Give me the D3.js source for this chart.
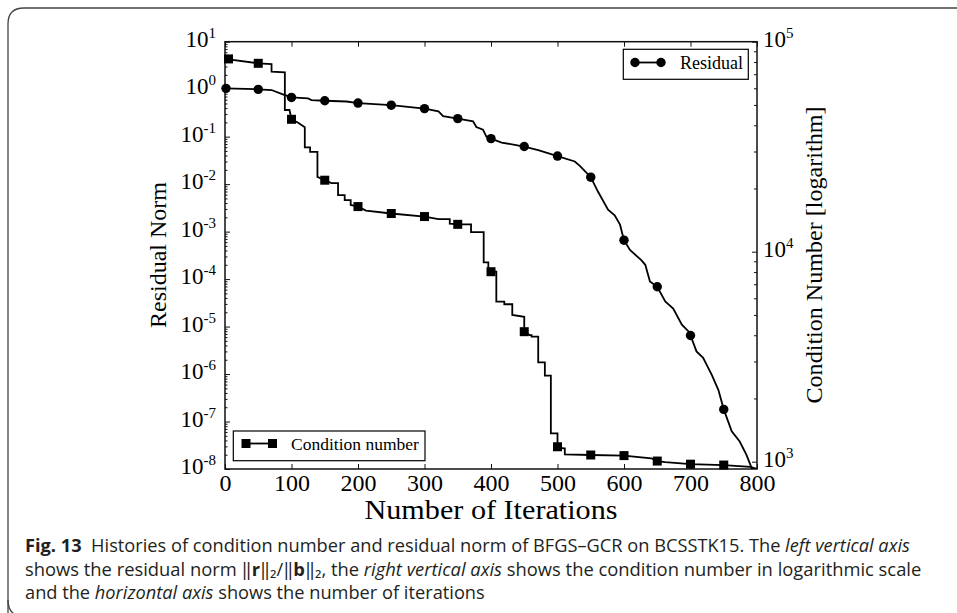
<!DOCTYPE html>
<html><head><meta charset="utf-8">
<script src="https://cdn.jsdelivr.net/npm/d3@7"></script>
<style>html,body{margin:0;padding:0;background:#fff;} svg{display:block;}</style>
</head><body><svg id="c" width="957" height="613"></svg>
<script>
// ---------- data ----------
const xTicks = [0, 100, 200, 300, 400, 500, 600, 700, 800];
const leftExponents = [1, 0, -1, -2, -3, -4, -5, -6, -7, -8];
const rightExponents = [5, 4, 3];

const residualIter = [
  0, 50, 70, 87, 100, 125, 130, 150, 183, 200,
  250, 300, 321, 328, 350, 373, 378, 388, 393, 400,
  416, 450, 471, 500, 526, 534, 550, 561, 576, 586,
  594, 600, 609, 626, 632, 639, 650, 662, 674, 687,
  697, 700, 709, 719, 732, 742, 750, 762, 774, 784,
  792, 797];
const residualValue = [
  1.04, 0.995, 0.96, 0.78, 0.67, 0.64, 0.59, 0.57, 0.55, 0.51,
  0.46, 0.39, 0.34, 0.27, 0.24, 0.21, 0.16, 0.14, 0.10, 0.091,
  0.075, 0.062, 0.052, 0.039, 0.030, 0.024, 0.014, 6.9e-3, 2.9e-3, 2.2e-3,
  1.4e-3, 6.6e-4, 4.1e-4, 2.5e-4, 2.0e-4, 8.9e-5, 6.9e-5, 3.4e-5, 2.4e-5, 1.1e-5,
  7.9e-6, 6.5e-6, 3.0e-6, 2.2e-6, 9.6e-7, 4.6e-7, 1.8e-7, 6.2e-8, 3.8e-8, 2.0e-8,
  1.05e-8, 1.0e-8];

const markerIter = [0, 50, 100, 150, 200, 250, 300, 350, 400, 450, 500, 550, 600, 650, 700, 750];
const residualMarkerValue = [1.04, 0.99, 0.67, 0.57, 0.51, 0.46, 0.39, 0.24, 0.091, 0.062, 0.039, 0.014, 6.6e-4, 6.9e-5, 6.5e-6, 1.8e-7];
const conditionMarkerValue = [82800, 78900, 42700, 21900, 16400, 15200, 14700, 13500, 8030, 4160, 1178, 1076, 1069, 1007, 973, 964];

const conditionIter = [
  0, 50, 70, 70, 90, 90, 97, 100, 110, 120,
  120, 128, 128, 139, 139, 150, 160, 170, 170, 180,
  180, 189, 189, 200, 212, 250, 300, 321, 338, 338,
  350, 370, 370, 389, 389, 396, 396, 400, 408, 408,
  420, 420, 432, 432, 450, 450, 458, 461, 461, 471,
  471, 481, 481, 490, 490, 500, 500, 509, 511, 511,
  550, 600, 641, 650, 662, 700, 750, 790, 800];
const conditionValue = [
  82800, 78900, 78300, 72000, 71500, 47300, 47300, 42700, 41100, 39100,
  31400, 31400, 29900, 29900, 22700, 21900, 21200, 21200, 18600, 18600,
  17600, 17600, 16700, 16400, 15700, 15200, 14700, 14300, 14300, 13600,
  13500, 13500, 12400, 12400, 8900, 8900, 8360, 8030, 8030, 5780,
  5780, 5620, 5620, 5000, 4900, 4160, 4010, 4010, 3940, 3940,
  2970, 2970, 2570, 2570, 1365, 1365, 1178, 1158, 1158, 1084,
  1076, 1069, 1038, 1007, 995, 973, 964, 944, 923];

// ---------- layout ----------
const svg = d3.select("#c");
const L = 225, R = 757, T = 41.7, B = 469;
const serif = "'Liberation Serif','Times New Roman',serif";

const x = d3.scaleLinear().domain([0, 800]).range([L, R]);
const yL = d3.scaleLog().domain([1e-8, 10]).range([B, T]);
const yR = d3.scaleLog().domain([923, 1e5]).range([B, T]);

// outer frame
svg.append("path")
  .attr("d", `M 8 1000 L 8 24 Q 8 8 24 8 L 1000 8`)
  .attr("fill", "none").attr("stroke", "#444").attr("stroke-width", 1.3);
svg.append("path")
  .attr("d", `M 8 600 Q 8 614 20 616`)
  .attr("fill", "none").attr("stroke", "#444").attr("stroke-width", 1.3);

svg.append("defs").append("clipPath").attr("id", "clip")
  .append("rect").attr("x", L).attr("y", T).attr("width", R - L).attr("height", B - T);

// ---------- axes ----------
function styleAxis(g) {
  g.select(".domain").remove();
  g.selectAll(".tick line").attr("stroke", "#111").attr("stroke-width", 1);
}
// bottom
const gB = svg.append("g").attr("transform", `translate(0,${B})`)
  .call(d3.axisBottom(x).tickValues(xTicks).tickSizeInner(-5).tickSizeOuter(0).tickPadding(5).tickFormat(d3.format("d")));
styleAxis(gB);
gB.selectAll(".tick text").attr("font-family", serif).attr("font-size", 24).attr("fill", "#000");
// top
const gT = svg.append("g").attr("transform", `translate(0,${T})`)
  .call(d3.axisTop(x).tickValues(xTicks).tickSizeInner(-5).tickSizeOuter(0).tickFormat(""));
styleAxis(gT);

// left major / minor
const leftMajor = leftExponents.map(e => Math.pow(10, e));
const leftMinor = [];
leftExponents.slice(1).forEach(e => { for (let k = 2; k <= 9; k++) leftMinor.push(k * Math.pow(10, e)); });
const gLm = svg.append("g").attr("transform", `translate(${L},0)`)
  .call(d3.axisLeft(yL).tickValues(leftMinor).tickSizeInner(-2.5).tickSizeOuter(0).tickFormat(""));
styleAxis(gLm);
const gL = svg.append("g").attr("transform", `translate(${L},0)`)
  .call(d3.axisLeft(yL).tickValues(leftMajor).tickSizeInner(-5).tickSizeOuter(0).tickFormat(""));
styleAxis(gL);

// right major / minor
const rightMajor = rightExponents.map(e => Math.pow(10, e));
const rightMinor = [];
[3, 4].forEach(e => { for (let k = 2; k <= 9; k++) rightMinor.push(k * Math.pow(10, e)); });
const gRm = svg.append("g").attr("transform", `translate(${R},0)`)
  .call(d3.axisRight(yR).tickValues(rightMinor).tickSizeInner(-3).tickSizeOuter(0).tickFormat(""));
styleAxis(gRm);
const gR = svg.append("g").attr("transform", `translate(${R},0)`)
  .call(d3.axisRight(yR).tickValues(rightMajor).tickSizeInner(-5).tickSizeOuter(0).tickFormat(""));
styleAxis(gR);

// power labels
function powLabel(g, xPos, yPos, exp, anchor) {
  const t = g.append("text").attr("x", xPos).attr("y", yPos)
    .attr("text-anchor", anchor).attr("font-family", serif).attr("fill", "#000");
  t.append("tspan").attr("font-size", 23).text("10");
  t.append("tspan").attr("font-size", 15).attr("dy", -9).text(String(exp));
}
const labels = svg.append("g");
leftExponents.forEach(e => powLabel(labels, 216, yL(Math.pow(10, e)) + 5, e, "end"));
rightExponents.forEach(e => powLabel(labels, 763, yR(Math.pow(10, e)) + 5.5, e, "start"));

// plot frame
svg.append("rect").attr("x", L).attr("y", T).attr("width", R - L).attr("height", B - T)
  .attr("fill", "none").attr("stroke", "#111").attr("stroke-width", 1.5);

// axis titles
svg.append("text").attr("x", 491).attr("y", 519).attr("text-anchor", "middle")
  .attr("font-family", serif).attr("font-size", 28).attr("textLength", 253).attr("lengthAdjust", "spacingAndGlyphs")
  .text("Number of Iterations");
svg.append("text").attr("transform", `translate(166,255) rotate(-90)`).attr("text-anchor", "middle")
  .attr("font-family", serif).attr("font-size", 23).attr("textLength", 146).attr("lengthAdjust", "spacingAndGlyphs")
  .text("Residual Norm");
svg.append("text").attr("transform", `translate(822,255) rotate(-90)`).attr("text-anchor", "middle")
  .attr("font-family", serif).attr("font-size", 23).attr("textLength", 297).attr("lengthAdjust", "spacingAndGlyphs")
  .text("Condition Number [logarithm]");

// ---------- series ----------
const plot = svg.append("g").attr("clip-path", "url(#clip)");
const resData = residualIter.map((it, i) => [it, residualValue[i]]);
const condData = conditionIter.map((it, i) => [it, conditionValue[i]]);

plot.append("path").datum(condData)
  .attr("d", d3.line().x(d => x(d[0])).y(d => yR(d[1])))
  .attr("fill", "none").attr("stroke", "#000").attr("stroke-width", 1.8);
plot.append("path").datum(resData)
  .attr("d", d3.line().x(d => x(d[0])).y(d => yL(d[1])))
  .attr("fill", "none").attr("stroke", "#000").attr("stroke-width", 1.8);

const ms = 9;
svg.append("g").selectAll("rect").data(markerIter.map((it, i) => [it, conditionMarkerValue[i]]))
  .join("rect")
  .attr("x", d => Math.max(x(d[0]) - ms / 2, L - 1)).attr("y", d => yR(d[1]) - ms / 2)
  .attr("width", ms).attr("height", ms).attr("fill", "#000");
svg.append("g").selectAll("circle").data(markerIter.map((it, i) => [it, residualMarkerValue[i]]))
  .join("circle")
  .attr("cx", d => Math.max(x(d[0]), L + 1)).attr("cy", d => yL(d[1]))
  .attr("r", 4.7).attr("fill", "#000");

// ---------- legends ----------
const lg1 = svg.append("g");
lg1.append("rect").attr("x", 623.3).attr("y", 49.3).attr("width", 125).attr("height", 30)
  .attr("fill", "#fff").attr("stroke", "#000").attr("stroke-width", 1.2);
lg1.append("line").attr("x1", 635).attr("x2", 661).attr("y1", 62.5).attr("y2", 62.5).attr("stroke", "#000").attr("stroke-width", 1.8);
[635, 661].forEach(cx => lg1.append("circle").attr("cx", cx).attr("cy", 62.5).attr("r", 4.7).attr("fill", "#000"));
lg1.append("text").attr("x", 680).attr("y", 69).attr("font-family", serif).attr("font-size", 18).text("Residual");

const lg2 = svg.append("g");
lg2.append("rect").attr("x", 233.3).attr("y", 431).attr("width", 191.7).attr("height", 29.7)
  .attr("fill", "#fff").attr("stroke", "#000").attr("stroke-width", 1.2);
lg2.append("line").attr("x1", 246).attr("x2", 272.5).attr("y1", 443.5).attr("y2", 443.5).attr("stroke", "#000").attr("stroke-width", 1.8);
[246, 272.5].forEach(cx => lg2.append("rect").attr("x", cx - ms / 2).attr("y", 443.5 - ms / 2).attr("width", ms).attr("height", ms).attr("fill", "#000"));
lg2.append("text").attr("x", 291).attr("y", 450).attr("font-family", serif).attr("font-size", 17.5).text("Condition number");

// ---------- caption ----------
const capFont = "'Open Sans','Noto Sans','DejaVu Sans',sans-serif";
const capColor = "#231f20";
function captionLine(y, parts, target) {
  const t = svg.append("text").attr("x", 0).attr("y", 0)
    .attr("font-family", capFont).attr("font-size", 18).attr("fill", capColor)
    .style("white-space", "pre");
  parts.forEach(p => {
    const s = t.append("tspan").text(p.t);
    if (p.b) s.attr("font-weight", "bold");
    if (p.i) s.attr("font-style", "italic");
  });
  const w = t.node().getComputedTextLength();
  t.attr("transform", `translate(25,${y}) scale(${target / w},1)`);
}
captionLine(552, [
  { t: "Fig. 13", b: true },
  { t: "  Histories of condition number and residual norm of BFGS\u2013GCR on BCSSTK15. The " },
  { t: "left vertical axis", i: true }
], 885);
captionLine(575.5, [
  { t: "shows the residual norm \u2016" },
  { t: "r", b: true },
  { t: "\u2016\u2082/\u2016" },
  { t: "b", b: true },
  { t: "\u2016\u2082, the " },
  { t: "right vertical axis", i: true },
  { t: " shows the condition number in logarithmic scale" }
], 897);
captionLine(599, [
  { t: "and the " },
  { t: "horizontal axis", i: true },
  { t: " shows the number of iterations" }
], 460);
</script></body></html>
